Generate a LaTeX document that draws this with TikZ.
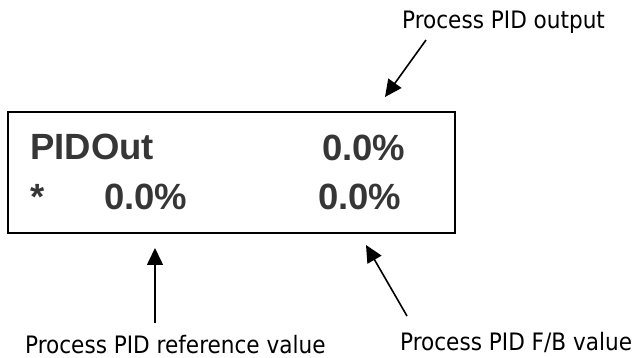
\documentclass[tikz,border=0pt]{standalone}
\usepackage{fontspec}
\setmainfont{DejaVu Sans Condensed}
\newfontfamily\lcdfont{Liberation Sans}
\usetikzlibrary{arrows.meta}
\definecolor{lcdtext}{HTML}{363636}
\tikzset{
  lcd/.style={font=\lcdfont\bfseries\fontsize{36.5}{36}\selectfont, text=lcdtext, inner sep=0pt, anchor=base west},
  lbl/.style={font=\fontsize{24}{26}\selectfont, text=black, inner sep=0pt, anchor=base west},
  ptr/.style={line width=1.6pt, -{Triangle[length=17pt,width=16pt]}},
  panel/.style={draw=black, line width=2pt, minimum width=447pt, minimum height=121pt, inner sep=0pt}
}
\begin{document}
\begin{tikzpicture}[x=1pt,y=-1pt]
\useasboundingbox (0,0) rectangle (635,358);
\node[panel] (display) at (231.5,172.5) {};
\node[lcd] (pidout) at (30,160) {PIDOut};
\node[lcd] (outval) at (322,161) {0.0\%};
\node[lcd] (star) at (30,210) {*};
\node[lcd] (refval) at (104,210) {0.0\%};
\node[lcd] (fbval) at (318,210) {0.0\%};
\node[lbl] (outlbl) at (402,29) {Process PID output};
\node[lbl] (reflbl) at (25,353) {Process PID reference value};
\node[lbl] (fblbl) at (400,350) {Process PID F/B value};
\coordinate (outtail) at (426,40);
\coordinate (outtip) at (385,97);
\coordinate (reftail) at (155,323);
\coordinate (reftip) at (155,248);
\coordinate (fbtail) at (407,316);
\coordinate (fbtip) at (366,245);
\draw[ptr] (outtail) -- (outtip);
\draw[ptr] (reftail) -- (reftip);
\draw[ptr] (fbtail) -- (fbtip);
\end{tikzpicture}
\end{document}
